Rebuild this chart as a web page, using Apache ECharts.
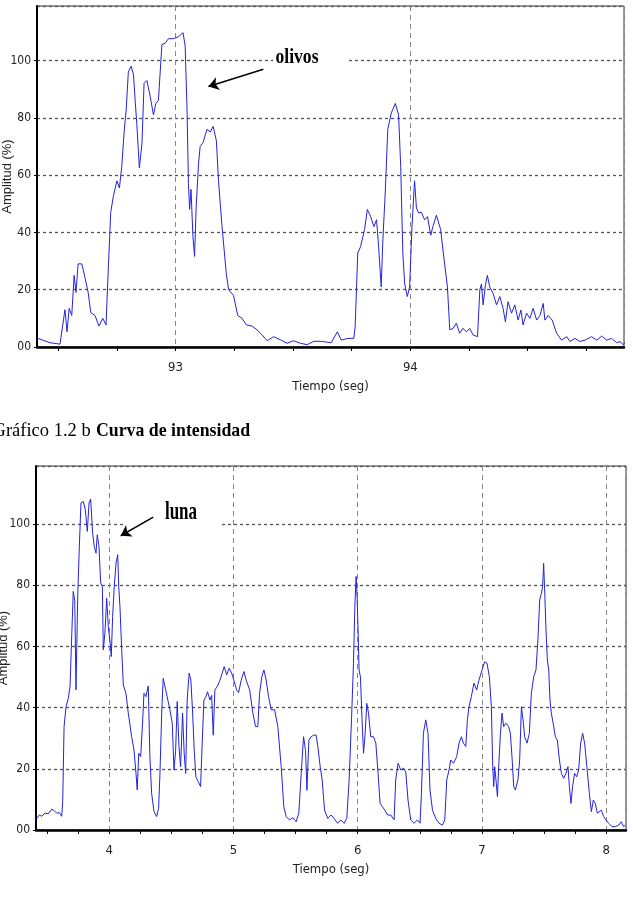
<!DOCTYPE html>
<html><head><meta charset="utf-8">
<script src="https://cdn.jsdelivr.net/npm/echarts@6/dist/echarts.min.js"></script>
<style>html,body{margin:0;padding:0;background:#fff}#c{width:634px;height:906px}</style>
</head><body><div id="c"></div>
<script>
// ---- Chart 1 (olivos): time (s) and amplitude (%) ----
const olivosTime = [
 92.414, 92.465, 92.508, 92.529, 92.538, 92.547, 92.558, 92.568, 92.576, 92.585,
 92.601, 92.615, 92.628, 92.639, 92.657, 92.674, 92.690, 92.704, 92.714, 92.724,
 92.735, 92.750, 92.761, 92.771, 92.781, 92.790, 92.799, 92.811, 92.821, 92.828,
 92.835, 92.846, 92.857, 92.866, 92.878, 92.892, 92.906, 92.916, 92.927, 92.942,
 92.956, 92.970, 92.991, 93.013, 93.032, 93.041, 93.049, 93.055, 93.060, 93.066,
 93.074, 93.081, 93.088, 93.098, 93.105, 93.117, 93.134, 93.148, 93.160, 93.174,
 93.183, 93.198, 93.216, 93.226, 93.247, 93.265, 93.283, 93.302, 93.326, 93.347,
 93.369, 93.390, 93.418, 93.447, 93.475, 93.503, 93.532, 93.561, 93.589, 93.617,
 93.663, 93.689, 93.706, 93.734, 93.759, 93.765, 93.776, 93.788, 93.805, 93.817,
 93.831, 93.845, 93.856, 93.865, 93.876, 93.883, 93.893, 93.904, 93.919, 93.936,
 93.950, 93.959, 93.968, 93.976, 93.987, 93.997, 94.007, 94.018, 94.026, 94.035,
 94.047, 94.061, 94.073, 94.087, 94.096, 94.111, 94.129, 94.146, 94.158, 94.168,
 94.182, 94.196, 94.210, 94.224, 94.239, 94.253, 94.267, 94.286, 94.296, 94.303,
 94.310, 94.320, 94.328, 94.338, 94.352, 94.367, 94.381, 94.395, 94.405, 94.416,
 94.431, 94.445, 94.459, 94.471, 94.480, 94.495, 94.509, 94.523, 94.538, 94.552,
 94.566, 94.573, 94.587, 94.604, 94.623, 94.644, 94.666, 94.680, 94.701, 94.722,
 94.744, 94.772, 94.794, 94.815, 94.836, 94.857, 94.879, 94.893, 94.907, 94.914
];
const olivosAmp = [
 3, 1.5, 1, 13, 5.3, 13.5, 11, 25, 19, 29,
 29, 24, 19, 12, 11, 7.3, 10, 7.7, 28, 47,
 52.5, 58, 55.5, 63, 75, 83, 96, 98, 95, 86,
 78, 62.5, 71, 92, 93, 87.5, 81, 85, 86, 105.6,
 106, 107.6, 107.6, 108.3, 109.7, 105, 83, 57, 48, 55,
 38.6, 31.6, 49, 64, 70, 71.3, 76, 75, 77, 72,
 58, 42, 25.8, 20, 18, 11, 10, 7.7, 7.3, 6,
 4.2, 2.2, 3.6, 2.5, 1.3, 2.2, 1.3, 0.8, 2, 2,
 1.5, 5.3, 2.4, 3, 3, 7, 32.8, 35, 41, 48,
 45.5, 42, 44.4, 35, 21, 37.4, 53.7, 76, 81.7, 85,
 81, 63, 32.8, 22, 17.6, 21, 42, 58, 48.5, 46.8,
 47, 44.4, 45.5, 39, 42, 46, 41, 29, 21, 6,
 6.5, 8.3, 4.8, 6.5, 5.3, 6.5, 4.2, 3.6, 20, 22,
 14.7, 21.7, 25, 21, 18.8, 14.7, 17.6, 13.5, 8.8, 15.8,
 11.8, 14.7, 9.4, 12.9, 7.7, 11.8, 10, 13.5, 9.4, 11,
 15.2, 9.4, 11, 9.4, 4.8, 2.4, 3.6, 1.9, 3, 1.9,
 2.4, 3.6, 2.4, 3.8, 2.4, 3, 1.5, 1.9, 0.8, 1.5
];
// ---- Chart 2 (luna) ----
const lunaTime = [
 3.416, 3.437, 3.456, 3.483, 3.509, 3.537, 3.555, 3.577, 3.598, 3.617,
 3.625, 3.636, 3.652, 3.670, 3.684, 3.698, 3.710, 3.722, 3.732, 3.746,
 3.759, 3.772, 3.791, 3.807, 3.823, 3.837, 3.850, 3.866, 3.879, 3.893,
 3.903, 3.917, 3.931, 3.944, 3.952, 3.965, 3.979, 3.992, 4.006, 4.016,
 4.027, 4.040, 4.054, 4.068, 4.076, 4.086, 4.100, 4.113, 4.134, 4.153,
 4.167, 4.180, 4.199, 4.215, 4.225, 4.237, 4.253, 4.269, 4.279, 4.295,
 4.314, 4.327, 4.341, 4.360, 4.381, 4.397, 4.408, 4.422, 4.434, 4.454,
 4.470, 4.488, 4.507, 4.521, 4.534, 4.547, 4.561, 4.574, 4.590, 4.603,
 4.615, 4.627, 4.643, 4.657, 4.671, 4.684, 4.697, 4.716, 4.735, 4.748,
 4.762, 4.778, 4.791, 4.810, 4.824, 4.837, 4.850, 4.869, 4.891, 4.909,
 4.925, 4.945, 4.965, 4.985, 5.003, 5.025, 5.041, 5.062, 5.084, 5.102,
 5.130, 5.156, 5.178, 5.196, 5.210, 5.228, 5.245, 5.263, 5.282, 5.303,
 5.331, 5.357, 5.384, 5.405, 5.424, 5.451, 5.478, 5.504, 5.526, 5.545,
 5.564, 5.580, 5.591, 5.607, 5.625, 5.645, 5.665, 5.679, 5.698, 5.714,
 5.733, 5.759, 5.786, 5.810, 5.838, 5.864, 5.891, 5.912, 5.931, 5.950,
 5.966, 5.977, 5.987, 5.995, 6.003, 6.011, 6.022, 6.035, 6.047, 6.060,
 6.073, 6.087, 6.105, 6.127, 6.146, 6.164, 6.180, 6.199, 6.218, 6.240,
 6.266, 6.293, 6.306, 6.325, 6.347, 6.368, 6.387, 6.405, 6.427, 6.454,
 6.481, 6.502, 6.513, 6.529, 6.548, 6.566, 6.582, 6.602, 6.628, 6.655,
 6.682, 6.701, 6.717, 6.735, 6.749, 6.771, 6.797, 6.816, 6.835, 6.851,
 6.870, 6.883, 6.896, 6.915, 6.936, 6.958, 6.976, 7.001, 7.022, 7.041,
 7.060, 7.076, 7.087, 7.095, 7.103, 7.113, 7.125, 7.135, 7.149, 7.162,
 7.175, 7.194, 7.215, 7.229, 7.242, 7.256, 7.269, 7.290, 7.304, 7.318,
 7.331, 7.344, 7.363, 7.382, 7.398, 7.417, 7.435, 7.451, 7.465, 7.479,
 7.489, 7.497, 7.505, 7.516, 7.527, 7.538, 7.548, 7.559, 7.578, 7.591,
 7.607, 7.624, 7.640, 7.658, 7.677, 7.693, 7.704, 7.717, 7.730, 7.746,
 7.763, 7.779, 7.795, 7.811, 7.827, 7.845, 7.865, 7.881, 7.897, 7.913,
 7.929, 7.945, 7.961, 7.980, 7.998, 8.020, 8.047, 8.074, 8.101, 8.122,
 8.141, 8.155
];
const lunaAmp = [
 3.8, 4.9, 4.5, 5.5, 5.3, 6.8, 6.4, 5.5, 5.7, 4.5,
 9.3, 33.8, 40.3, 43, 46.9, 64, 78, 75, 45.8, 76.9,
 92.7, 106.9, 107.4, 104.7, 97.6, 106.9, 108.2, 97, 92.7, 90.5,
 96.5, 92.7, 80.7, 79.6, 58.9, 64.4, 75.8, 66.5, 61.6, 56.7,
 69.8, 79.6, 87.2, 90, 79.6, 73, 58.9, 47.4, 44.7, 38.2,
 38.5, 30.5, 26.2, 18.5, 13.1, 25.1, 24, 36, 44.7, 43.6,
 47.1, 24, 12, 6, 4.4, 7.1, 18.5, 38.2, 49.6, 45.8,
 45.8, 39.3, 34.9, 19.6, 26, 42, 27.3, 20.7, 38.2, 25.1,
 18.5, 42.5, 51.3, 49, 38.2, 26, 17.4, 15.8, 14.2, 28.4,
 42.5, 43.6, 45.2, 42.5, 44, 31, 45.8, 46.9, 49, 51.3,
 53.4, 50.7, 52.9, 51.3, 49, 45.8, 44.9, 49, 51.8, 49,
 45.8, 38.2, 33.8, 33.8, 44.7, 50.1, 52.3, 49, 43.6, 39.3,
 39.3, 33.8, 20.7, 7.6, 4.4, 3.3, 4, 2.7, 5.5, 18.5,
 30.5, 26, 13, 29.4, 30.5, 31, 31, 27.3, 20.7, 16.4,
 6.5, 3.8, 4.9, 3.8, 2.2, 3.3, 2.2, 3.8, 16.4, 36,
 54.5, 73, 82.9, 76.3, 65.4, 52.3, 50.1, 36, 25.1, 31.6,
 41.4, 38.2, 30.5, 30.5, 28.4, 18.5, 8.7, 7.6, 6.5, 4.9,
 4.9, 3.3, 16.4, 21.8, 19.6, 20.2, 19, 9.8, 3.3, 2.2,
 3.3, 2.2, 12, 31.6, 36, 31.6, 13.1, 6.5, 3.8, 2.2,
 1.6, 3.3, 16.4, 19.6, 22.9, 21.8, 24, 28.4, 30.5, 28.4,
 27.3, 36, 40.3, 43.6, 48, 45.8, 49, 52.3, 55, 54.5,
 50.1, 40.3, 20.7, 14.2, 20.7, 16.4, 10.9, 20.7, 31.6, 38.2,
 33.8, 34.9, 33.8, 31.6, 24, 14.2, 13.1, 16.4, 22.9, 40.3,
 36, 30.5, 28.4, 31.6, 44.7, 50.1, 52.3, 62.2, 75.2, 77.4,
 79.6, 87.2, 78.5, 65.4, 55.6, 52.3, 42.5, 38.2, 33.8, 30.5,
 29.4, 22.9, 18.5, 16.9, 18.5, 20.7, 14.2, 8.7, 14.2, 18.5,
 17.4, 19.6, 28.4, 31.6, 28.4, 20.7, 12, 6, 9.8, 8.7,
 5.5, 4.9, 6.5, 4.4, 3.3, 2.2, 1.1, 1.1, 1.6, 2.7,
 1.1, 1.6
];
// axis ticks
const olivosMinorTicks = [92.5, 92.75, 93, 93.25, 93.5, 93.75, 94, 94.25, 94.5, 94.75];
const lunaMinorTicks = [3.5, 3.75, 4, 4.25, 4.5, 4.75, 5, 5.25, 5.5, 5.75, 6, 6.25, 6.5, 6.75, 7, 7.25, 7.5, 7.75, 8];
// annotation arrows (data coordinates: [start, tip])
const olivosArrow = [[93.374, 96.9], [93.140, 90.9]];
const lunaArrow = [[4.354, 102.3], [4.092, 96.2]];

function pairs(t, a) { const n = Math.min(t.length, a.length); const r = []; for (let i = 0; i < n; i++) r.push([t[i], a[i]]); return r; }

const narrow = "'Liberation Sans Narrow','Arial Narrow','DejaVu Sans Condensed',sans-serif";
const blue = '#2323dc';

function yAxis(gi, gap) {
  return {
    gridIndex: gi, type: 'value', min: 0, max: 119, interval: 20,
    name: 'Amplitud (%)', nameLocation: 'middle', nameGap: gap, nameMoveOverlap: false,
    nameTextStyle: { fontFamily: "'Liberation Sans',Arial,sans-serif", fontSize: 13, color: '#222' },
    axisLine: { show: true, lineStyle: { color: '#000', width: 2 } },
    axisTick: { show: true, length: 3, lineStyle: { color: '#000' } },
    axisLabel: { formatter: v => (v === 0 ? '00' : String(v)), showMaxLabel: false, fontFamily: narrow, fontSize: 12, color: '#222', margin: 6 },
    splitLine: { show: true, lineStyle: { color: '#555', type: [3, 3], width: 1.3 } }
  };
}
function xMain(gi, min, max, split, gap) {
  return {
    gridIndex: gi, type: 'value', min: min, max: max, splitNumber: split, position: 'bottom',
    name: 'Tiempo (seg)', nameLocation: 'middle', nameGap: gap, nameMoveOverlap: false,
    nameTextStyle: { fontFamily: narrow, fontSize: 13, color: '#222' },
    axisLine: { show: true, onZero: false, lineStyle: { color: '#000', width: 2.5 } },
    axisTick: { show: false },
    axisLabel: { formatter: v => (Math.abs(v - Math.round(v)) < 1e-9 ? String(Math.round(v)) : ''), showMinLabel: false, showMaxLabel: false, fontFamily: narrow, fontSize: 13, color: '#222', margin: 14 },
    splitLine: { show: true, lineStyle: { color: '#888', type: [5, 4], width: 1 } }
  };
}
function xMinor(gi, min, max, ticks) {
  return {
    gridIndex: gi, type: 'value', min: min, max: max, position: 'bottom', offset: 0,
    axisLine: { show: false, onZero: false }, axisLabel: { show: false }, splitLine: { show: false },
    axisTick: { show: true, length: 4, customValues: ticks, lineStyle: { color: '#000', width: 1 } }
  };
}
function arrow(a) {
  return {
    silent: true, animation: false, symbol: ['none', 'arrow'], symbolSize: 10,
    label: { show: false }, emphasis: { disabled: true },
    lineStyle: { color: '#000', width: 1.5, type: 'solid' },
    data: [[{ coord: a[0] }, { coord: a[1] }]]
  };
}

const chart = echarts.init(document.getElementById('c'), null, { renderer: 'canvas' });
chart.setOption({
  animation: false,
  backgroundColor: '#fff',
  grid: [
    { left: 37, right: 10, top: 6, height: 341, containLabel: false, outerBoundsMode: 'none', show: true, borderColor: '#333', borderWidth: 1, backgroundColor: '#fff' },
    { left: 36, right: 8, top: 466, height: 364, containLabel: false, outerBoundsMode: 'none', show: true, borderColor: '#333', borderWidth: 1, backgroundColor: '#fff' }
  ],
  xAxis: [
    xMain(0, 92.41, 94.91, 3, 33),
    xMinor(0, 92.41, 94.91, olivosMinorTicks),
    xMain(1, 3.41, 8.16, 5, 33),
    xMinor(1, 3.41, 8.16, lunaMinorTicks)
  ],
  yAxis: [yAxis(0, 23), yAxis(1, 26)],
  series: [
    { type: 'line', xAxisIndex: 0, yAxisIndex: 0, data: pairs(olivosTime, olivosAmp), symbol: 'none', showSymbol: false,
      lineStyle: { color: blue, width: 1 }, itemStyle: { color: blue }, markLine: arrow(olivosArrow) },
    { type: 'line', xAxisIndex: 2, yAxisIndex: 1, data: pairs(lunaTime, lunaAmp), symbol: 'none', showSymbol: false,
      lineStyle: { color: blue, width: 1 }, itemStyle: { color: blue }, markLine: arrow(lunaArrow) }
  ],
  graphic: [
    { type: 'rect', z: 1, silent: true, shape: { x: 273, y: 48, width: 75, height: 22 }, style: { fill: '#fff' } },
    { type: 'text', z: 5, silent: true, x: 297, y: 57, scaleX: 0.8,
      style: { text: 'olivos', fontFamily: "'Liberation Serif','Times New Roman',serif", fontWeight: 'bold', fontSize: 22, fill: '#000', align: 'center', verticalAlign: 'middle' } },
    { type: 'rect', z: 1, silent: true, shape: { x: 124, y: 504, width: 96, height: 26 }, style: { fill: '#fff' } },
    { type: 'text', z: 5, silent: true, x: 181, y: 513, scaleX: 0.68,
      style: { text: 'luna', fontFamily: "'Liberation Serif','Times New Roman',serif", fontWeight: 'bold', fontSize: 25, fill: '#000', align: 'center', verticalAlign: 'middle' } },
    { type: 'text', z: 5, silent: true, x: 90.7, y: 431,
      style: { text: 'Gráfico 1.2 b', fontFamily: "'Liberation Serif','Times New Roman',serif", fontSize: 18.5, fill: '#000', align: 'right', verticalAlign: 'middle' } },
    { type: 'text', z: 5, silent: true, x: 96, y: 431,
      style: { text: 'Curva de intensidad', fontFamily: "'Liberation Serif','Times New Roman',serif", fontWeight: 'bold', fontSize: 17.8, fill: '#000', align: 'left', verticalAlign: 'middle' } }
  ]
});
</script>
</body></html>
